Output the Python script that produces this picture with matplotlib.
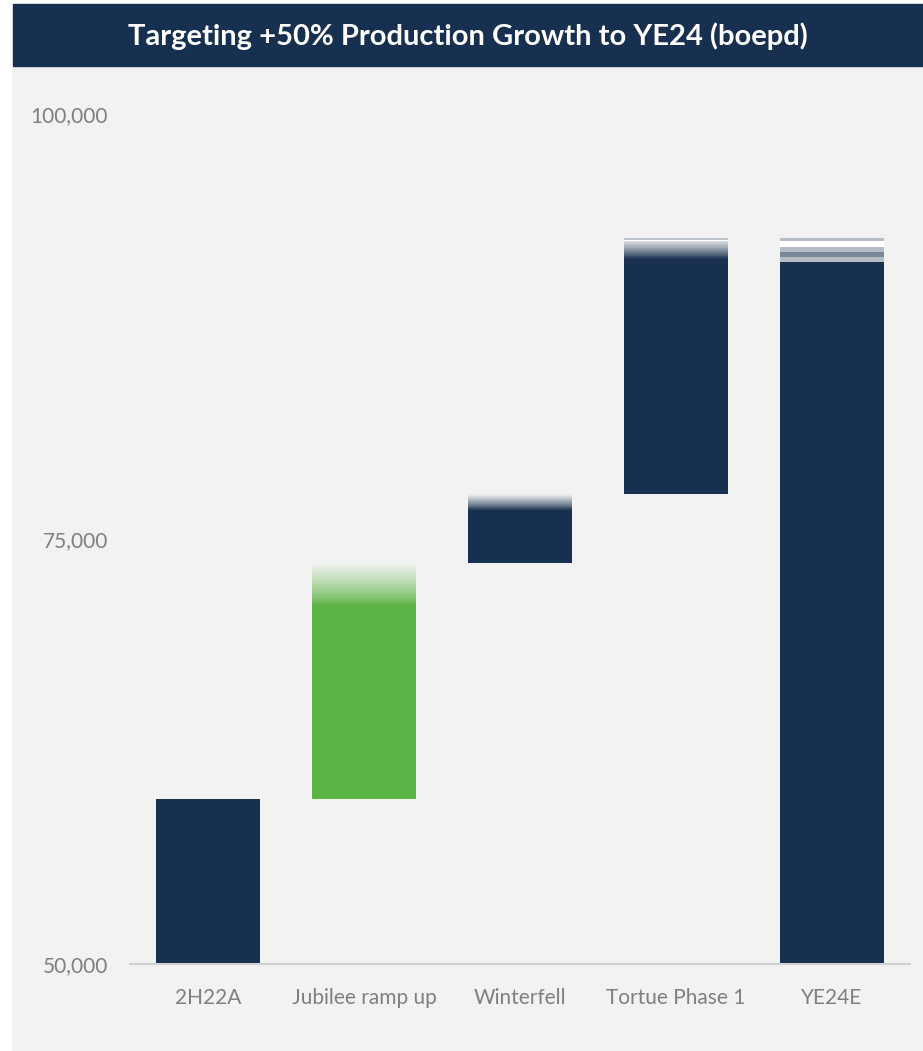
import numpy as np
import matplotlib.pyplot as plt
from matplotlib.colors import to_rgb

plt.rcParams['font.family'] = ['Lato', 'DejaVu Sans']

# Waterfall data (boepd)
categories = ['2H22A', 'Jubilee ramp up', 'Winterfell', 'Tortue Phase 1', 'YE24E']
start_value = 59700
increments = [13900, 4050, 15050]
end_value = 92700

navy = '#17304f'
green = '#5db446'
panel = '#f2f2f2'

# bar bottoms / heights from data
bottoms = [50000]
heights = [start_value - 50000]
level = start_value
for inc in increments:
    bottoms.append(level)
    heights.append(inc)
    level += inc
bottoms.append(50000)
heights.append(end_value - 50000)
colors = [navy, green, navy, navy, navy]
# depth of the faded top of each bar (style only)
fades = [0, 2500, 950, 1200, 1400]

fig = plt.figure(figsize=(9.23, 10.51), dpi=100)
fig.patch.set_facecolor('white')

# grey panel and title band
fig.add_artist(plt.Rectangle((12 / 923, 0), 1 - 12 / 923, 1 - 66 / 1051,
                             transform=fig.transFigure, color=panel, zorder=0))
fig.add_artist(plt.Rectangle((13 / 923, 1 - 66 / 1051), 1 - 13 / 923, 62 / 1051,
                             transform=fig.transFigure, color=navy, zorder=0))
fig.text(468 / 923, 1 - 36 / 1051, 'Targeting +50% Production Growth to YE24 (boepd)',
         color='white', fontsize=21, fontweight='bold', ha='center', va='center')

ax = fig.add_axes([130 / 923, 87 / 1051, 780 / 923, 850 / 1051])
ax.set_facecolor('none')

x = np.arange(len(categories))
w = 0.667


def blend(c, t):
    r = np.array(to_rgb(c))
    bg = np.array(to_rgb(panel))
    return tuple(r * (1 - t) + bg * t)


for i in range(len(categories)):
    b, h, c, f = bottoms[i], heights[i], colors[i], fades[i]
    ax.bar(x[i], h - f, bottom=b, width=w, color=c, zorder=2)
    if f == 0:
        continue
    top = b + h
    if i == 4:
        # stepped fade on the total bar
        steps = [(0.72, 300), (0.45, 300), (0.72, 300), (1.3, 350)]
        y0 = top - f
        for t, d in steps:
            col = blend(c, t) if t <= 1 else 'white'
            ax.bar(x[i], d, bottom=y0, width=w, color=col, zorder=2)
            y0 += d
        ax.bar(x[i], top - y0, bottom=y0, width=w, color=blend(c, 0.72), zorder=2)
        continue
    n = 30
    edges = np.linspace(top - f, top, n + 1)
    for k in range(n):
        t = (k + 0.5) / n
        ax.bar(x[i], edges[k + 1] - edges[k], bottom=edges[k], width=w,
               color=blend(c, t ** 0.8), zorder=2, linewidth=0)
    if i == 3:
        ax.bar(x[i], 180, bottom=top - 180, width=w, color='white', zorder=3)
        ax.bar(x[i], 120, bottom=top - 120, width=w, color=blend(c, 0.75), zorder=3)

ax.set_xlim(-0.5, len(categories) - 0.5)
ax.set_ylim(50000, 100000)
ax.set_yticks([50000, 75000, 100000])
ax.set_yticklabels([f'{v:,}' for v in [50000, 75000, 100000]])
ax.set_xticks(x)
ax.set_xticklabels(categories)
ax.tick_params(axis='both', length=0, colors='#7f7f7f', labelsize=15)
ax.tick_params(axis='y', pad=16)
ax.tick_params(axis='x', pad=17)
for s in ['top', 'right', 'left']:
    ax.spines[s].set_visible(False)
ax.spines['bottom'].set_color('#d0d0d0')
ax.spines['bottom'].set_linewidth(1.5)

fig.savefig('out.png', dpi=100)
